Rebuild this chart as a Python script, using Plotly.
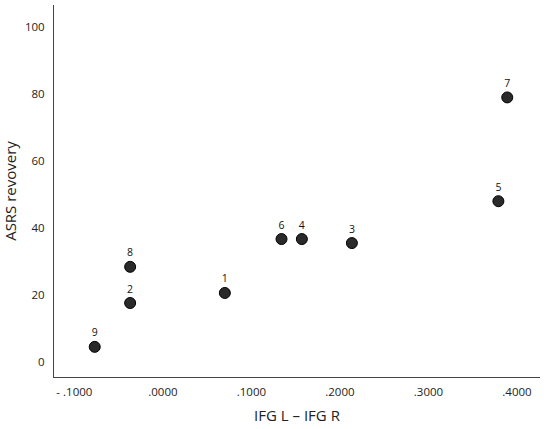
"""Scatter of ASRS recovery against IFG laterality, with case numbers."""

import plotly.graph_objects as go

case_ids = ["1", "2", "3", "4", "5", "6", "7", "8", "9"]
ifg_diff = [0.070, -0.037, 0.2135, 0.157, 0.379, 0.134, 0.389, -0.037, -0.077]
asrs_recovery = [20.6, 17.6, 35.5, 36.7, 48.0, 36.7, 79.0, 28.4, 4.5]

x_tickvals = [-0.1, 0.0, 0.1, 0.2, 0.3, 0.4]
x_ticktext = ["- .1000", ".0000", ".1000", ".2000", ".3000", ".4000"]
y_tickvals = [0, 20, 40, 60, 80, 100]

FONT = "Open Sans, Lato, sans-serif"

fig = go.Figure(go.Scatter(
    x=ifg_diff, y=asrs_recovery, text=case_ids,
    mode="markers+text", textposition="top center",
    textfont=dict(family=FONT, size=10.5, color="#111"),
    marker=dict(size=11, color="#2a2a2a", line=dict(color="#000", width=1)),
    cliponaxis=False, showlegend=False,
))

axis_common = dict(
    showgrid=False, zeroline=False, showline=True, automargin=False,
    linecolor="#444", linewidth=1,
    ticks="outside", tickcolor="rgba(0,0,0,0)",
    tickfont=dict(family=FONT, size=11.5, color="#222"),
)
fig.update_xaxes(
    **axis_common, range=[-0.123, 0.426], ticklen=4,
    tickvals=x_tickvals, ticktext=x_ticktext,
    title=dict(text="IFG L – IFG R", font=dict(family=FONT, size=15, color="#222"), standoff=12),
)
fig.update_yaxes(
    **axis_common, range=[-4.5, 106.6], ticklen=6,
    tickvals=y_tickvals,
    title=dict(text="ASRS revovery", font=dict(family=FONT, size=15, color="#222"), standoff=9),
)
fig.update_layout(
    width=546, height=429,
    margin=dict(l=54, r=6, t=5, b=52),
    plot_bgcolor="white", paper_bgcolor="white",
)

# the page's default body margin would shift the plot by 8px
fig.write_html(
    "out.html",
    config={"displayModeBar": False},
    post_script="document.body.style.margin = '0';",
)
